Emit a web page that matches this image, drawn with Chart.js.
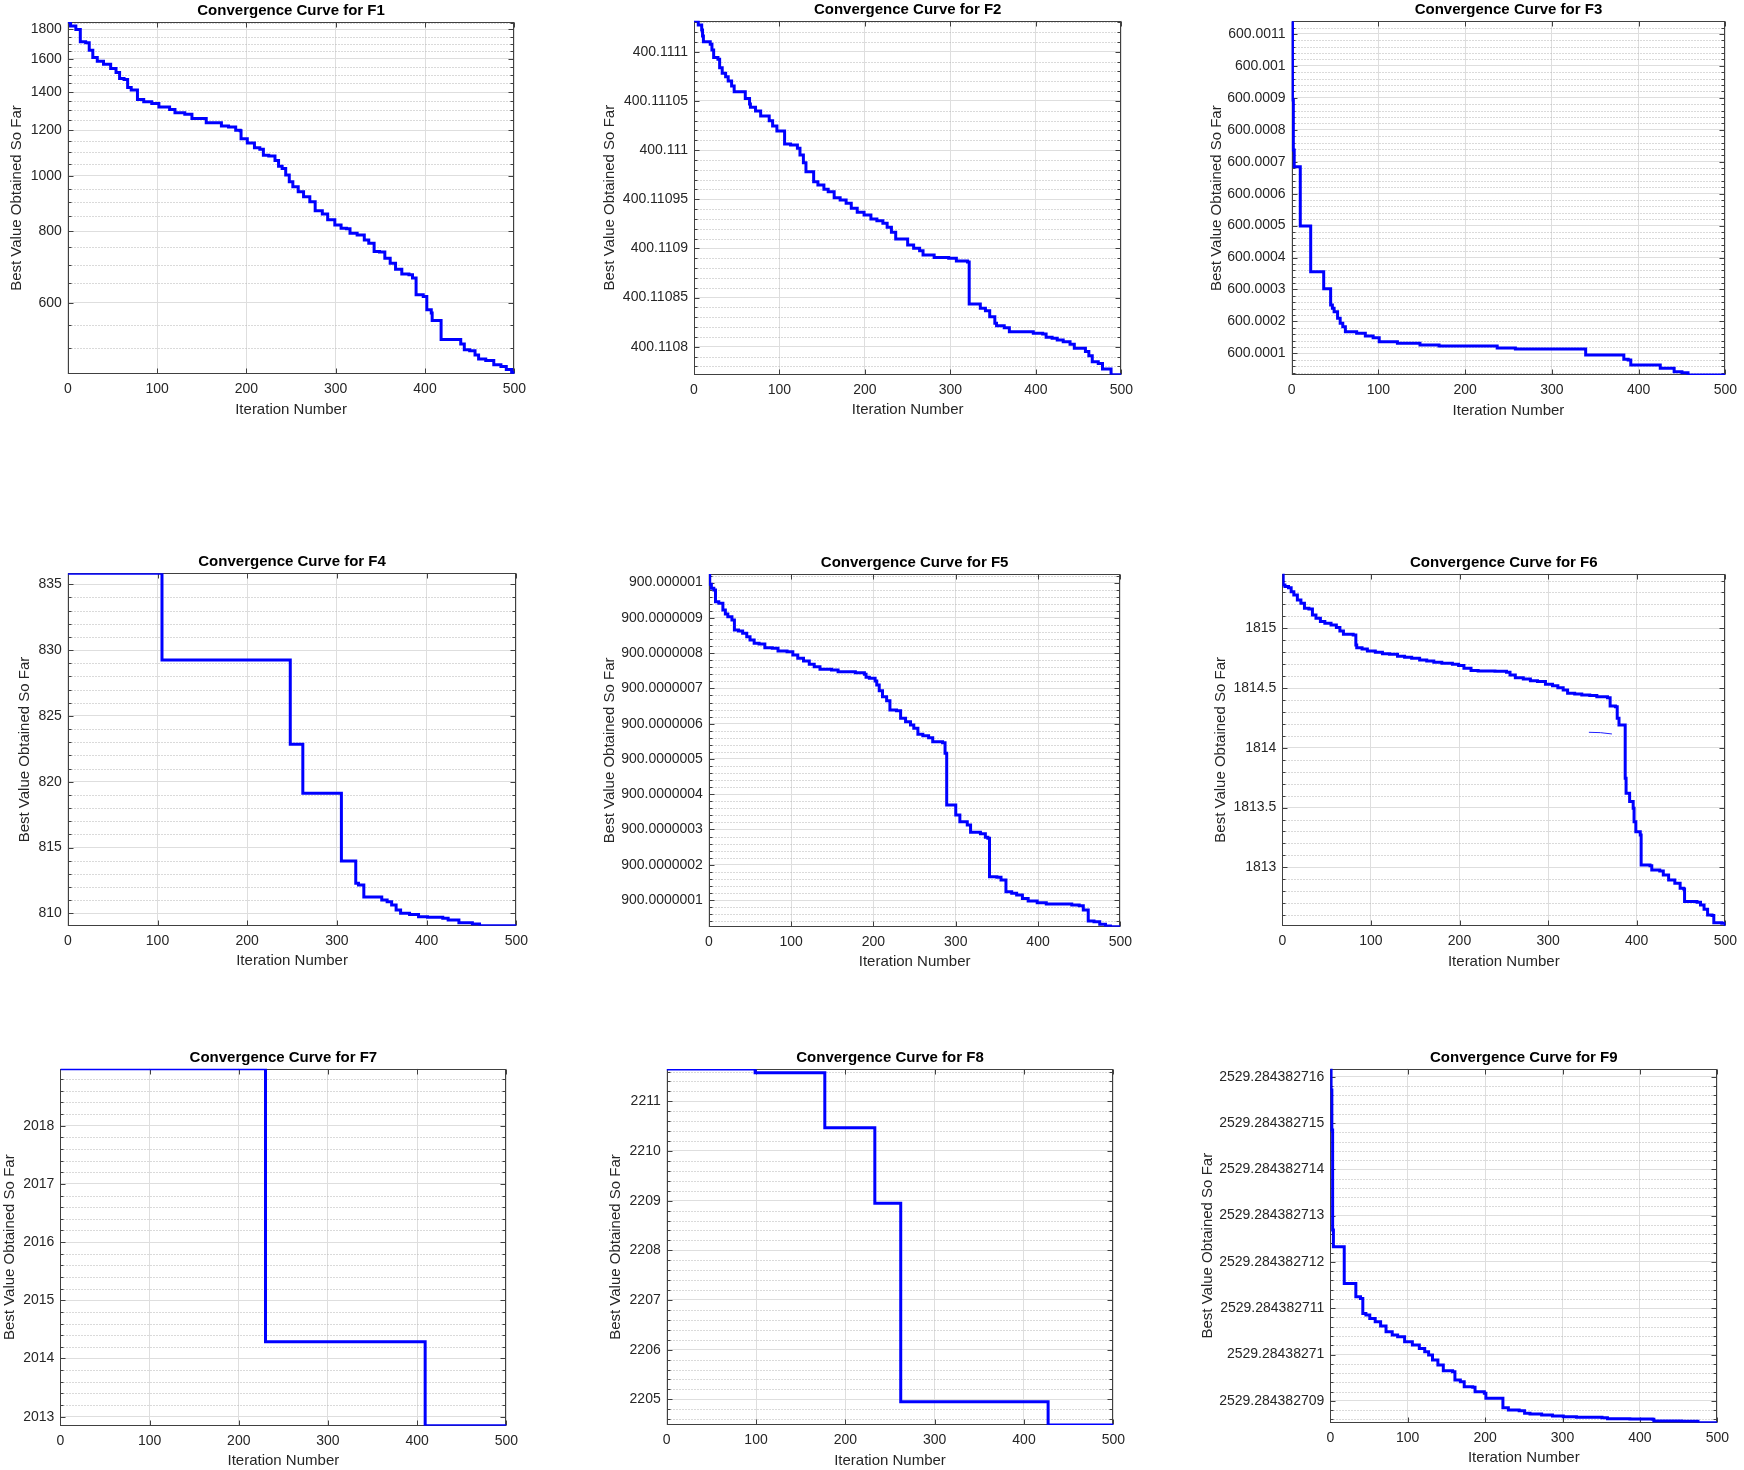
<!DOCTYPE html>
<html>
<head>
<meta charset="utf-8">
<title>Convergence curves F1-F9</title>
<script src="https://cdn.jsdelivr.net/npm/chart.js@4.4.1/dist/chart.umd.min.js"></script>
<style>
  html, body { margin: 0; padding: 0; background: #fff; }
  #page { position: relative; width: 1744px; height: 1470px; overflow: hidden; background: #fff; }
  #page canvas { position: absolute; }
</style>
</head>
<body>
<div id="page"></div>
<script>
// ---- data (iteration where the best value changes, new best value) ----
const iterTicks = [0, 100, 200, 300, 400, 500];

const f1Iter = [0, 3, 9, 14, 20, 24, 28, 33, 40, 48, 54, 58, 63, 67, 71, 78, 85, 94, 102, 114, 120, 131, 139, 155, 172, 180, 188, 193, 194, 201, 209, 215, 219, 225, 232, 236, 240, 244, 248, 252, 258, 264, 271, 277, 285, 291, 299, 306, 312, 316, 324, 332, 337, 343, 349, 355, 361, 367, 374, 382, 386, 390, 398, 402, 407, 408, 418, 440, 444, 450, 456, 460, 468, 477, 485, 491, 497, 500];
const f1Best = [1855, 1826, 1800, 1713, 1706, 1656, 1608, 1585, 1566, 1539, 1514, 1478, 1472, 1426, 1411, 1359, 1346, 1337, 1319, 1305, 1288, 1281, 1259, 1237, 1221, 1217, 1201, 1198, 1160, 1141, 1119, 1113, 1086, 1083, 1063, 1039, 1030, 1003, 976, 957, 938, 919, 901, 869, 858, 838, 821, 810, 808, 794, 788, 773, 763, 738, 736, 718, 704, 687, 674, 672, 663, 620, 616, 584, 576, 559, 518, 509, 497, 495, 487, 479, 476, 468, 465, 459, 454, 451];
const f1Ticks = [600, 800, 1000, 1200, 1400, 1600, 1800];

const f2Iter = [0, 5, 9, 10, 11, 19, 21, 23, 28, 30, 33, 37, 40, 44, 47, 60, 65, 66, 72, 78, 88, 92, 97, 106, 113, 121, 124, 128, 131, 140, 145, 152, 157, 164, 171, 178, 184, 191, 199, 207, 214, 221, 226, 231, 236, 250, 257, 264, 268, 281, 298, 307, 320, 322, 335, 341, 346, 352, 354, 363, 369, 397, 408, 412, 419, 425, 432, 440, 445, 458, 462, 466, 473, 478, 488, 500];
const f2Best = [400.1111315, 400.1111271, 400.1111220, 400.1111159, 400.1111102, 400.1111075, 400.1111017, 400.1110942, 400.1110922, 400.1110837, 400.1110780, 400.1110746, 400.1110702, 400.1110651, 400.1110593, 400.1110525, 400.1110468, 400.1110434, 400.1110397, 400.1110346, 400.1110298, 400.1110244, 400.1110193, 400.1110061, 400.1110051, 400.1110017, 400.1109949, 400.1109871, 400.1109780, 400.1109678, 400.1109644, 400.1109600, 400.1109576, 400.1109515, 400.1109492, 400.1109458, 400.1109407, 400.1109366, 400.1109339, 400.1109298, 400.1109281, 400.1109254, 400.1109214, 400.1109163, 400.1109095, 400.1109034, 400.1109000, 400.1108976, 400.1108932, 400.1108908, 400.1108898, 400.1108871, 400.1108861, 400.1108434, 400.1108390, 400.1108366, 400.1108305, 400.1108237, 400.1108214, 400.1108193, 400.1108152, 400.1108136, 400.1108129, 400.1108095, 400.1108085, 400.1108068, 400.1108051, 400.1108024, 400.1107983, 400.1107950, 400.1107908, 400.1107847, 400.1107830, 400.1107773, 400.1107715, 400.1107715];
const f2Ticks = [400.1108, 400.11085, 400.1109, 400.11095, 400.111, 400.11105, 400.1111];

const f3Iter = [0, 1, 2, 3, 10, 22, 37, 45, 47, 49, 53, 56, 59, 62, 75, 85, 94, 101, 122, 148, 170, 237, 258, 339, 383, 388, 391, 425, 441, 450, 457, 500];
const f3Best = [600.0011396, 600.0008933, 600.0007367, 600.0006845, 600.0004987, 600.0003557, 600.0003025, 600.0002513, 600.0002409, 600.0002305, 600.0002096, 600.0001939, 600.0001835, 600.0001678, 600.0001626, 600.0001543, 600.0001491, 600.0001365, 600.0001313, 600.0001261, 600.0001230, 600.0001167, 600.0001136, 600.0000948, 600.0000812, 600.0000791, 600.0000635, 600.0000530, 600.0000426, 600.0000395, 600.0000322, 600.0000322];
const f3Ticks = [600.0001, 600.0002, 600.0003, 600.0004, 600.0005, 600.0006, 600.0007, 600.0008, 600.0009, 600.001, 600.0011];

const f4Iter = [0, 105, 248, 262, 305, 321, 324, 330, 350, 356, 361, 366, 371, 381, 391, 401, 418, 424, 436, 451, 459, 500];
const f4Best = [835.836, 829.25, 822.84, 819.12, 813.98, 812.28, 812.15, 811.24, 811.01, 810.89, 810.63, 810.25, 810.0, 809.92, 809.75, 809.70, 809.62, 809.49, 809.29, 809.19, 809.063, 809.063];
const f4Ticks = [810, 815, 820, 825, 830, 835];

const f5Iter = [0, 1, 3, 6, 8, 12, 17, 20, 23, 28, 31, 36, 41, 46, 50, 55, 61, 68, 77, 84, 95, 102, 108, 115, 122, 128, 135, 149, 157, 178, 189, 191, 195, 202, 204, 207, 211, 216, 220, 228, 233, 239, 245, 249, 254, 260, 267, 272, 284, 287, 289, 300, 305, 314, 318, 330, 336, 339, 341, 350, 355, 361, 368, 374, 381, 388, 399, 410, 441, 450, 455, 461, 468, 475, 482, 488, 500];
const f5Best = [900.0000010244, 900.0000009951, 900.0000009837, 900.000000979, 900.0000009459, 900.0000009412, 900.0000009223, 900.000000911, 900.0000009034, 900.000000894, 900.0000008656, 900.0000008628, 900.0000008561, 900.0000008467, 900.0000008372, 900.0000008278, 900.0000008259, 900.0000008155, 900.0000008136, 900.000000806, 900.0000008042, 900.0000007947, 900.0000007853, 900.0000007777, 900.0000007682, 900.0000007616, 900.0000007541, 900.0000007522, 900.0000007474, 900.0000007446, 900.0000007399, 900.0000007314, 900.0000007285, 900.000000721, 900.0000007096, 900.0000006936, 900.0000006766, 900.0000006652, 900.0000006388, 900.0000006369, 900.0000006151, 900.0000006057, 900.0000005962, 900.0000005868, 900.0000005698, 900.000000566, 900.0000005603, 900.000000549, 900.0000005461, 900.0000005159, 900.0000003694, 900.000000341, 900.0000003221, 900.0000003127, 900.0000002919, 900.0000002881, 900.0000002777, 900.0000002749, 900.0000001662, 900.0000001643, 900.0000001567, 900.0000001236, 900.0000001189, 900.0000001142, 900.0000001047, 900.0000000972, 900.0000000924, 900.0000000887, 900.0000000858, 900.0000000839, 900.0000000716, 900.0000000405, 900.0000000386, 900.000000031, 900.0000000263, 900.0000000244, 900.0000000244];
const f5Ticks = [900.0000001, 900.0000002, 900.0000003, 900.0000004, 900.0000005, 900.0000006, 900.0000007, 900.0000008, 900.0000009, 900.000001];

const f6Iter = [0, 1, 3, 7, 10, 13, 17, 21, 25, 30, 34, 38, 43, 48, 55, 61, 65, 69, 80, 83, 84, 90, 96, 105, 113, 121, 130, 138, 146, 155, 163, 171, 180, 192, 199, 205, 213, 221, 240, 253, 257, 263, 272, 280, 288, 297, 305, 311, 317, 322, 330, 338, 347, 355, 367, 370, 376, 378, 380, 387, 388, 392, 396, 397, 399, 404, 405, 415, 417, 426, 430, 436, 443, 449, 453, 454, 468, 472, 476, 480, 485, 487, 496, 500];
const f6Best = [1815.457, 1815.363, 1815.349, 1815.340, 1815.307, 1815.279, 1815.237, 1815.209, 1815.167, 1815.162, 1815.112, 1815.084, 1815.056, 1815.042, 1815.028, 1815.006, 1814.978, 1814.950, 1814.944, 1814.861, 1814.838, 1814.827, 1814.810, 1814.799, 1814.788, 1814.782, 1814.766, 1814.757, 1814.749, 1814.735, 1814.727, 1814.715, 1814.707, 1814.699, 1814.688, 1814.665, 1814.646, 1814.643, 1814.640, 1814.632, 1814.609, 1814.587, 1814.576, 1814.562, 1814.554, 1814.531, 1814.520, 1814.503, 1814.484, 1814.456, 1814.450, 1814.442, 1814.437, 1814.428, 1814.420, 1814.350, 1814.344, 1814.247, 1814.191, 1813.745, 1813.619, 1813.550, 1813.494, 1813.382, 1813.298, 1813.271, 1813.020, 1813.014, 1812.978, 1812.969, 1812.936, 1812.894, 1812.866, 1812.824, 1812.819, 1812.713, 1812.707, 1812.685, 1812.649, 1812.601, 1812.596, 1812.537, 1812.531, 1812.509];
const f6StrayIter = [346, 359, 372];
const f6StrayBest = [1814.130, 1814.127, 1814.116];
const f6Ticks = [1813, 1813.5, 1814, 1814.5, 1815];

const f7Iter = [0, 230, 409, 500];
const f7Best = [2018.979, 2014.289, 2012.845, 2012.845];
const f7Ticks = [2013, 2014, 2015, 2016, 2017, 2018];

const f8Iter = [0, 99, 177, 233, 262, 427, 500];
const f8Best = [2211.651, 2211.577, 2210.470, 2208.946, 2204.953, 2204.483, 2204.483];
const f8Ticks = [2205, 2206, 2207, 2208, 2209, 2210, 2211];

const f9Iter = [0, 1, 2, 3, 4, 18, 33, 39, 42, 46, 51, 58, 65, 72, 80, 87, 96, 106, 115, 122, 127, 132, 139, 146, 158, 161, 168, 173, 184, 187, 199, 201, 223, 230, 244, 251, 258, 273, 287, 301, 318, 351, 358, 387, 416, 418, 454, 475, 500];
const f9Best = [2529.284382716173, 2529.284382715712, 2529.284382714848, 2529.284382712688, 2529.284382712328, 2529.284382711536, 2529.284382711248, 2529.284382711212, 2529.284382710888, 2529.284382710852, 2529.28438271078, 2529.284382710708, 2529.284382710615, 2529.284382710492, 2529.28438271042, 2529.284382710384, 2529.284382710276, 2529.284382710204, 2529.284382710132, 2529.28438271006, 2529.284382709988, 2529.28438270988, 2529.284382709772, 2529.28438270965, 2529.284382709629, 2529.284382709449, 2529.284382709413, 2529.284382709305, 2529.28438270929, 2529.284382709197, 2529.284382709161, 2529.284382709053, 2529.284382708851, 2529.284382708801, 2529.284382708786, 2529.284382708729, 2529.284382708714, 2529.284382708693, 2529.284382708671, 2529.284382708657, 2529.284382708642, 2529.284382708635, 2529.284382708613, 2529.284382708606, 2529.284382708599, 2529.284382708563, 2529.284382708556, 2529.284382708527, 2529.284382708527];
const f9Ticks = [2529.284382709, 2529.28438271, 2529.284382711, 2529.284382712, 2529.284382713, 2529.284382714, 2529.284382715, 2529.284382716];

// ---- panels: data + label digits + minor subdivisions ----
const series = [
  { name: 'F1', iter: f1Iter, best: f1Best, ticks: f1Ticks, log: true, digits: 0, sub: 4 },
  { name: 'F2', iter: f2Iter, best: f2Best, ticks: f2Ticks, digits: 5, sub: 5 },
  { name: 'F3', iter: f3Iter, best: f3Best, ticks: f3Ticks, digits: 4, sub: 5 },
  { name: 'F4', iter: f4Iter, best: f4Best, ticks: f4Ticks, digits: 0, sub: 5 },
  { name: 'F5', iter: f5Iter, best: f5Best, ticks: f5Ticks, digits: 7, sub: 5 },
  { name: 'F6', iter: f6Iter, best: f6Best, ticks: f6Ticks, digits: 1, sub: 5, stray: { iter: f6StrayIter, best: f6StrayBest } },
  { name: 'F7', iter: f7Iter, best: f7Best, ticks: f7Ticks, digits: 0, sub: 5 },
  { name: 'F8', iter: f8Iter, best: f8Best, ticks: f8Ticks, digits: 0, sub: 5 },
  { name: 'F9', iter: f9Iter, best: f9Best, ticks: f9Ticks, digits: 9, sub: 5 }
];

// plot-area boxes on the page (px) and centre of the y-axis title
const frames = [
  { left: 67.8, top: 22, right: 517.4, bottom: 374, yTitle: 17.4 },
  { left: 694, top: 20.7, right: 1123.7, bottom: 374.7, yTitle: 610 },
  { left: 1291.6, top: 21.3, right: 1727.7, bottom: 375, yTitle: 1216.5 },
  { left: 67.8, top: 573.3, right: 518.5, bottom: 925.7, yTitle: 24.8 },
  { left: 708.9, top: 574, right: 1123, bottom: 926.7, yTitle: 609.6 },
  { left: 1282.3, top: 573.7, right: 1728, bottom: 926, yTitle: 1221.3 },
  { left: 60.4, top: 1068.7, right: 508.9, bottom: 1425.7, yTitle: 10 },
  { left: 666.7, top: 1069, right: 1116, bottom: 1425, yTitle: 616.3 },
  { left: 1330.3, top: 1068.7, right: 1720.2, bottom: 1422.7, yTitle: 1208.3 }
];

Chart.defaults.font.family = "'Liberation Sans', Arial, Helvetica, sans-serif";
Chart.defaults.color = '#262626';

function fmt(v, d) {
  let s = v.toFixed(d);
  if (d > 0) s = s.replace(/0+$/, '').replace(/\.$/, '');
  return s;
}

function minorValues(major, sub, lo, hi) {
  const step = (major[1] - major[0]) / sub;
  const out = [];
  for (let k = -sub * 4; k <= (major.length - 1) * sub + sub * 4; k++) {
    if (k % sub === 0) continue;
    const v = major[0] + k * step;
    if (v > lo && v < hi) out.push(v);
  }
  return out;
}

// matlab-like box: dotted minor grid, inward ticks on all four sides, dark frame
const matlabAxes = {
  id: 'matlabAxes',
  beforeDatasetsDraw(chart, args, opts) {
    const { ctx, chartArea: a } = chart;
    const x = chart.scales.x, y = chart.scales.y;
    const L = Math.round(a.left) + 0.5, R = Math.round(a.right) - 0.5;
    const T = Math.round(a.top) + 0.5, B = Math.round(a.bottom) - 0.5;
    const yp = v => Math.round(y.getPixelForValue(v)) + 0.5;
    ctx.save();
    ctx.lineWidth = 1;
    ctx.strokeStyle = '#b4b4b4';
    ctx.setLineDash([1, 2]);
    opts.minor.forEach(v => {
      const py = yp(v);
      ctx.beginPath(); ctx.moveTo(L, py); ctx.lineTo(R, py); ctx.stroke();
    });
    ctx.setLineDash([]);
    ctx.strokeStyle = '#404040';
    ctx.beginPath();
    y.ticks.forEach(t => {
      const py = yp(t.value);
      ctx.moveTo(L, py); ctx.lineTo(L + 5, py);
      ctx.moveTo(R, py); ctx.lineTo(R - 5, py);
    });
    opts.minor.forEach(v => {
      const py = yp(v);
      ctx.moveTo(L, py); ctx.lineTo(L + 3, py);
      ctx.moveTo(R, py); ctx.lineTo(R - 3, py);
    });
    x.ticks.forEach(t => {
      const px = Math.round(x.getPixelForValue(t.value)) + 0.5;
      ctx.moveTo(px, B); ctx.lineTo(px, B - 5);
      ctx.moveTo(px, T); ctx.lineTo(px, T + 5);
    });
    ctx.stroke();
    ctx.strokeRect(L, T, R - L, B - T);
    ctx.restore();
  }
};

const page = document.getElementById('page');

series.forEach((s, i) => {
  const f = frames[i];
  const cl = Math.round(f.yTitle - 9);
  const ct = Math.round(f.top - 20);
  const cr = Math.min(1744, Math.round(f.right + 16));
  const cb = Math.round(f.bottom + 44.5);
  const yw = f.left - cl;
  const xh = cb - f.bottom;
  const padRight = cr - f.right;
  const titlePad = f.top - ct - 18;

  const canvas = document.createElement('canvas');
  canvas.width = cr - cl;
  canvas.height = cb - ct;
  canvas.style.left = cl + 'px';
  canvas.style.top = ct + 'px';
  canvas.style.width = (cr - cl) + 'px';
  canvas.style.height = (cb - ct) + 'px';
  page.appendChild(canvas);

  const yMin = Math.min(...s.best);
  const yMax = Math.max(...s.best);

  const datasets = [{
    data: s.iter.map((it, k) => ({ x: it, y: s.best[k] })),
    borderColor: '#0000ff',
    borderWidth: 3,
    pointRadius: 0,
    stepped: 'before',
    fill: false
  }];
  if (s.stray) {
    datasets.push({
      data: s.stray.iter.map((it, k) => ({ x: it, y: s.stray.best[k] })),
      borderColor: '#2020ff',
      borderWidth: 1,
      pointRadius: 0,
      fill: false
    });
  }

  new Chart(canvas, {
    type: 'line',
    data: { datasets },
    options: {
      responsive: false,
      animation: false,
      events: [],
      layout: { padding: { left: 0, top: 0, right: padRight, bottom: 0 } },
      plugins: {
        legend: { display: false },
        tooltip: { enabled: false },
        title: {
          display: true,
          fullSize: false,
          text: 'Convergence Curve for ' + s.name,
          color: '#000',
          font: { size: 15, weight: 'bold', lineHeight: 1.2 },
          padding: { top: 0, bottom: titlePad }
        },
        matlabAxes: { minor: minorValues(s.ticks, s.sub, yMin, yMax) }
      },
      scales: {
        x: {
          type: 'linear',
          min: 0,
          max: 500,
          afterBuildTicks: sc => { sc.ticks = iterTicks.map(v => ({ value: v })); },
          afterFit: sc => { sc.height = xh; },
          grid: { color: '#dedede', lineWidth: 1, drawTicks: false },
          border: { display: false },
          ticks: { padding: 7, maxRotation: 0, autoSkip: false, font: { size: 14 }, color: '#262626', callback: v => String(v) },
          title: { display: true, text: 'Iteration Number', font: { size: 15, lineHeight: 1.2 }, color: '#262626', padding: { top: 0, bottom: 0 } }
        },
        y: {
          type: s.log ? 'logarithmic' : 'linear',
          min: yMin,
          max: yMax,
          afterBuildTicks: sc => { sc.ticks = s.ticks.map(v => ({ value: v })); },
          afterFit: sc => { sc.width = yw; },
          grid: { color: '#dedede', lineWidth: 1, drawTicks: false },
          border: { display: false },
          ticks: { padding: 6, autoSkip: false, font: { size: 14 }, color: '#262626', callback: v => fmt(v, s.digits) },
          title: { display: true, text: 'Best Value Obtained So Far', font: { size: 15, lineHeight: 1.2 }, color: '#262626', padding: { top: 0, bottom: 0 } }
        }
      }
    },
    plugins: [matlabAxes]
  });
});
</script>
</body>
</html>
